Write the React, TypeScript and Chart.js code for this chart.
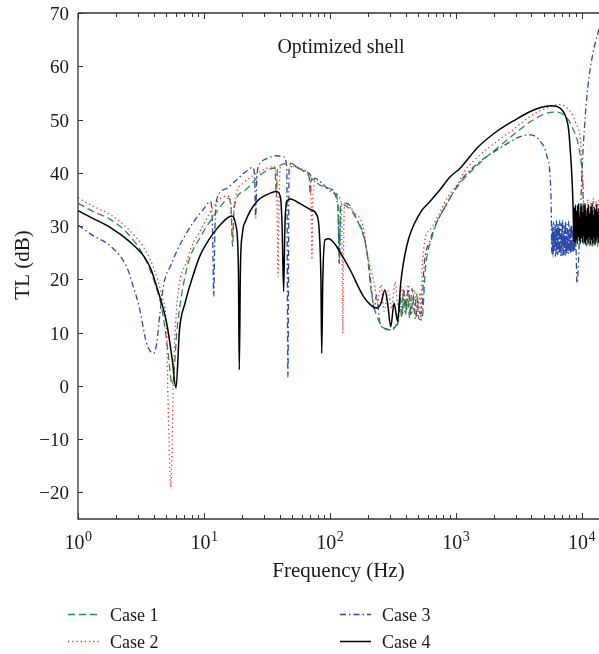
import React, { useEffect, useRef } from "react";
import { Chart, registerables } from "chart.js";

Chart.register(...registerables);

type P = [number, number];

// ---- Data: [frequency (Hz), TL (dB)] ----
const case1: P[] = [
  [1, 34.3], [1.3, 32.8], [1.82, 31.2], [2.46, 28.7], [3.34, 24.3], [3.99, 19.9], [4.65, 14.3],
  [5.15, 7.0], [5.61, 0.2], [6.15, 11.1], [7.38, 22.4], [9.42, 28.0], [11.5, 31.3], [13.6, 33.7],
  [15.7, 35.2], [16.4, 33.5], [16.9, 26.2], [17.4, 33.5], [20.6, 36.5], [27.9, 39.6], [36.7, 40.9],
  [37.6, 35.5], [38.5, 41.0], [48.6, 41.8], [60, 40.5], [68.5, 39.2], [70, 35.9], [71.5, 38.9],
  [85, 37.6], [106.6, 36.8], [116, 34.0], [119, 23.0], [122, 34.0], [136, 33.7], [164, 31.2],
  [196, 25.5], [216, 16.8], [250, 11.8], [302, 10.5], [344, 12.1], [360, 16.5], [372, 13.0],
  [385, 18.0], [400, 13.5], [415, 17.5], [430, 12.8], [450, 18.3], [470, 13.8], [490, 17.2],
  [510, 12.6], [540, 12.4], [574, 21.8], [649, 28.0], [853, 34.3], [1088, 38.1], [1500, 41.5],
  [2128, 44.6], [3000, 47.5], [3916, 49.6], [5300, 51.2], [6380, 51.4], [7660, 50.3], [8590, 48.1],
  [9460, 45.0], [10070, 40.0], [10300, 34.9],
  [10400, 26.3], [10550, 31.5], [10700, 26.5], [10850, 33.0], [11000, 26.2], [11150, 29.8],
  [11300, 26.6], [11450, 32.5], [11600, 26.3], [11750, 30.5], [11900, 26.4], [12050, 33.2],
  [12200, 26.2], [12350, 31.0], [12500, 26.5], [12650, 29.5], [12800, 26.3], [12950, 32.8],
  [13100, 26.6], [13250, 30.2], [13400, 26.2], [13550, 31.8], [13750, 26.5],
];

const case2: P[] = [
  [1, 35.3], [1.3, 33.8], [1.82, 32.1], [2.46, 29.6], [3.34, 25.9], [3.99, 22.1], [4.65, 16.8],
  [5.09, 8.6], [5.16, 0], [5.28, -10], [5.45, -19.0], [5.61, -10], [5.71, 0], [5.96, 11.8],
  [7.38, 23.7], [9.42, 29.3], [13.6, 35.2], [15.7, 35.6], [16.4, 34.0], [16.9, 28.0], [17.4, 34.0],
  [20.6, 38.1], [27.9, 40.2], [36, 41.2], [38, 36.0], [38.8, 20.5], [39.6, 36.0], [41, 41.5],
  [46, 41.7], [55, 40.9], [69, 39.2], [71, 35.0], [72.2, 23.7], [73.4, 35.0], [78, 38.7],
  [106.6, 36.2], [123, 34.5], [125.5, 25.0], [127, 9.9], [128.5, 25.0], [131, 34.3], [154, 32.7],
  [185, 29.6], [196, 25.5], [228, 18.6], [240, 15.5], [255, 19.0], [270, 14.0], [290, 17.8],
  [310, 14.5], [330, 19.5], [350, 15.0], [370, 18.6], [395, 14.0], [420, 19.0], [445, 13.5],
  [470, 18.0], [495, 13.0], [520, 17.5], [532, 12.4], [537, 21.2], [625, 29.3], [853, 35.2],
  [1088, 38.7], [1156, 40.0], [1500, 43.0], [2128, 45.9], [3000, 48.5], [3916, 50.6], [5300, 52.2],
  [6770, 52.8], [8130, 51.5], [9000, 49.3], [9770, 46.2], [10070, 41.2], [10300, 36.8],
  [10450, 28.0], [10600, 34.5], [10750, 27.2], [10900, 33.0], [11050, 28.5], [11200, 35.0],
  [11350, 27.0], [11500, 31.5], [11650, 28.2], [11800, 34.2], [11950, 27.5], [12100, 32.6],
  [12250, 28.8], [12400, 35.2], [12550, 27.3], [12700, 33.4], [12850, 28.0], [13000, 34.6],
  [13150, 27.6], [13300, 32.0], [13450, 28.4], [13600, 34.8], [13750, 29.0],
];

const case3: P[] = [
  [1, 30.2], [1.3, 28.3], [1.82, 26.2], [2.46, 22.1], [2.75, 18.6], [3.05, 15.0], [3.51, 8.0],
  [3.99, 6.1], [4.22, 8.0], [4.48, 13.7], [4.82, 19.3], [5.5, 22.8], [6.15, 25.5], [7.2, 28.5],
  [8.34, 30.9], [9.8, 33.0], [11.3, 34.6], [11.7, 30.0], [11.97, 16.8], [12.25, 30.0], [12.8, 35.4],
  [15, 37.0], [18, 38.6], [21, 40.0], [24.5, 41.0], [25.3, 39.0], [25.8, 31.5], [26.3, 39.0],
  [28, 41.8], [32, 42.7], [38, 43.2], [43, 43.0], [45.5, 41.0], [46.5, 1.7], [47.5, 41.0],
  [52, 41.2], [62, 40.3], [70, 39.6], [73, 38.3], [76, 39.0], [85, 38.2], [100, 36.8],
  [116, 34.0], [119, 23.0], [122, 34.0], [136, 34.3], [164, 31.2], [190, 27.4], [208, 21.2],
  [216, 17.4], [225, 14.5], [235, 17.0], [250, 11.8], [275, 10.8], [302, 10.5], [325, 11.0],
  [350, 12.1], [365, 16.5], [375, 13.0], [390, 17.8], [405, 14.0], [420, 18.2], [440, 13.2],
  [460, 17.0], [480, 12.5], [500, 16.0], [520, 13.5], [540, 14.0], [556, 21.2], [629, 27.4],
  [700, 30.5], [802, 33.1], [950, 36.2], [1088, 38.4], [1500, 41.8], [2128, 44.3], [2700, 45.8],
  [3258, 46.8], [3916, 47.1], [4700, 45.9], [5310, 43.1], [5640, 38.7], [5750, 32.4],
  [5790, 25.0], [5830, 30.2], [5870, 24.6], [5910, 29.5], [5950, 24.2], [5990, 30.8], [6040, 25.4],
  [6080, 28.9], [6120, 25.8], [6160, 30.4], [6200, 24.3], [6250, 28.6], [6290, 24.5], [6330, 31.0],
  [6380, 26.0], [6420, 29.2], [6470, 24.6], [6510, 30.6], [6560, 25.1], [6600, 29.8], [6650, 24.8],
  [6700, 31.1], [6740, 25.6], [6790, 28.3], [6830, 24.4], [6880, 30.5], [6920, 25.9], [6970, 29.1],
  [7010, 24.4], [7060, 31.2], [7110, 25.3], [7160, 28.7], [7210, 24.6], [7260, 30.1], [7310, 25.8],
  [7360, 29.4], [7410, 24.5], [7460, 30.9], [7510, 25.4], [7570, 28.2], [7620, 24.7], [7680, 30.3],
  [7730, 25.5], [7790, 29.0], [7840, 24.8], [7900, 30.9], [7950, 25.7], [8010, 28.5], [8060, 25.1],
  [8120, 30.0], [8170, 24.9], [8230, 29.3], [8280, 25.6], [8340, 30.2], [8390, 25.0], [8450, 28.7],
  [8500, 25.9], [8560, 29.6], [8610, 25.3], [8670, 30.4], [8720, 25.8], [8780, 28.6], [8830, 25.2],
  [8890, 29.9], [8940, 26.4], [9000, 28.8], [9050, 25.6],
  [9190, 19.3], [9700, 30.0], [10070, 40.0], [10500, 48.0], [11200, 56.0], [12200, 62.0], [13750, 67.0],
];

const case4: P[] = [
  [1, 32.9], [1.3, 31.5], [1.81, 29.7], [2.5, 27.3], [3.34, 24.3], [3.8, 21.9], [4.22, 18.6],
  [5.06, 11.8], [5.6, 5.0], [6.0, -0.4], [6.4, 10.5], [7.08, 15.5], [8.0, 19.9], [9.3, 24.4],
  [11, 27.5], [13, 29.8], [15.3, 31.5], [16.7, 31.9], [18.0, 30.0], [18.8, 22.0], [19.1, 3.0],
  [19.5, 22.0], [20.2, 28.5], [21.5, 31.0], [26.3, 34.6], [31, 35.8], [37.6, 36.5], [40.5, 35.5],
  [41.8, 30.0], [43, 17.7], [44, 30.0], [45.5, 34.6], [48.6, 35.1], [58, 34.2], [70, 33.1],
  [78.7, 32.1], [82.5, 29.0], [85, 20.0], [86.3, 6.1], [88, 20.0], [91.6, 27.4], [98, 27.6],
  [110, 26.6], [125, 24.5], [145, 21.8], [185, 16.8], [215, 15.0], [236, 14.6], [255, 15.5],
  [274, 18.0], [288, 15.5], [305, 11.1], [324, 15.5], [346, 12.1], [366, 19.3], [408, 26.2],
  [520, 32.4], [625, 34.6], [750, 36.8], [900, 39.2], [1088, 40.9], [1500, 44.8], [2128, 47.8],
  [3000, 50.0], [3916, 51.5], [4800, 52.3], [5640, 52.6], [6300, 52.5], [6985, 51.8], [7500, 50.5],
  [7890, 48.1], [8200, 43.0], [8400, 38.7], [8550, 34.0],
  [8700, 27.0], [8790, 33.5], [8880, 26.8], [8960, 34.0], [9050, 27.5], [9140, 32.8], [9230, 26.6],
  [9310, 33.9], [9400, 28.0], [9490, 34.2], [9580, 27.2], [9670, 31.5], [9760, 26.7], [9850, 33.6],
  [9950, 27.8], [10050, 34.0], [10150, 26.9], [10250, 32.5], [10350, 28.2], [10450, 33.8],
  [10560, 27.0], [10670, 34.1], [10780, 26.5], [10890, 31.8], [11000, 27.6], [11120, 33.4],
  [11240, 26.9], [11360, 34.0], [11480, 28.1], [11600, 32.2], [11720, 26.7], [11850, 33.7],
  [11980, 27.4], [12110, 34.3], [12240, 26.8], [12370, 31.9], [12500, 27.9], [12640, 33.5],
  [12780, 26.6], [12920, 33.0], [13060, 27.3], [13200, 34.1], [13340, 28.0], [13480, 32.6],
  [13620, 26.9], [13750, 33.2],
];

const seriesLabels = ["Case 1", "Case 2", "Case 3", "Case 4"];
const xMin = 1;
const xMax = 13750;
const yMin = -25;
const yMax = 70;
const xMajorValues = [1, 10, 100, 1000, 10000];
const xMajorExponents = ["0", "1", "2", "3", "4"];
const yTickValues = [-20, -10, 0, 10, 20, 30, 40, 50, 60, 70];
const yTickLabels = ["\u221220", "\u221210", "0", "10", "20", "30", "40", "50", "60", "70"];
const annotationText = "Optimized shell";
const xTitle = "Frequency (Hz)";
const yTitle = "TL (dB)";

const FONT = '"Liberation Serif", "Times New Roman", Times, serif';
const TEXT = "#1a1a1a";
const AXIS = "#333333";

const decorPlugin = {
  id: "decor",
  afterDatasetsDraw(chart: any) {
    const ctx: CanvasRenderingContext2D = chart.ctx;
    const { left, right, top, bottom } = chart.chartArea;
    const xs = chart.scales.x;
    const ys = chart.scales.y;
    ctx.save();

    ctx.strokeStyle = AXIS;
    ctx.lineWidth = 1.3;
    ctx.setLineDash([]);
    ctx.beginPath();
    ctx.moveTo(left, top);
    ctx.lineTo(right + 2, top);
    ctx.moveTo(left, top);
    ctx.lineTo(left, bottom);
    ctx.lineTo(right + 2, bottom);
    ctx.stroke();

    ctx.lineWidth = 1;
    ctx.beginPath();
    for (let d = 0; d < xMajorValues.length; d++) {
      for (let m = 1; m <= 9; m++) {
        const v = m * xMajorValues[d];
        if (v < xMin || v > xMax) continue;
        const px = Math.round(xs.getPixelForValue(v)) + 0.5;
        const len = m === 1 ? 6 : 4;
        ctx.moveTo(px, bottom);
        ctx.lineTo(px, bottom - len);
        ctx.moveTo(px, top);
        ctx.lineTo(px, top + len);
      }
    }
    for (const v of yTickValues) {
      const py = Math.round(ys.getPixelForValue(v)) + 0.5;
      ctx.moveTo(left, py);
      ctx.lineTo(left + 5, py);
    }
    ctx.stroke();

    ctx.fillStyle = TEXT;
    ctx.font = `19px ${FONT}`;
    ctx.textAlign = "right";
    ctx.textBaseline = "alphabetic";
    yTickValues.forEach((v, i) => {
      const py = ys.getPixelForValue(v);
      ctx.fillText(yTickLabels[i], left - 9, py + 7);
    });

    ctx.textAlign = "left";
    xMajorValues.forEach((v, i) => {
      const px = xs.getPixelForValue(v);
      ctx.font = `20px ${FONT}`;
      const w1 = ctx.measureText("10").width;
      ctx.font = `14px ${FONT}`;
      const w2 = ctx.measureText(xMajorExponents[i]).width;
      const start = px - (w1 + w2) / 2;
      ctx.font = `20px ${FONT}`;
      ctx.fillText("10", start, bottom + 30);
      ctx.font = `14px ${FONT}`;
      ctx.fillText(xMajorExponents[i], start + w1 + 0.5, bottom + 21.5);
    });

    ctx.font = `21px ${FONT}`;
    ctx.textAlign = "center";
    ctx.fillText(xTitle, (left + right) / 2, bottom + 58);
    ctx.save();
    ctx.translate(28.5, (top + bottom) / 2 - 1);
    ctx.rotate(-Math.PI / 2);
    ctx.fillText(yTitle, 0, 0);
    ctx.restore();

    ctx.font = `20px ${FONT}`;
    ctx.textAlign = "center";
    ctx.fillText(annotationText, 341, top + 40);

    const ds = chart.data.datasets;
    const cols = [68, 340];
    const rows = [614.5, 641.5];
    const slots = [
      [0, 0],
      [0, 1],
      [1, 0],
      [1, 1],
    ];
    ds.forEach((d: any, i: number) => {
      const [c, r] = slots[i];
      const x0 = cols[c];
      const y0 = rows[r];
      ctx.save();
      ctx.strokeStyle = d.borderColor;
      ctx.lineWidth = d.borderWidth;
      ctx.setLineDash(d.borderDash || []);
      ctx.beginPath();
      ctx.moveTo(x0, y0);
      ctx.lineTo(x0 + 31, y0);
      ctx.stroke();
      ctx.restore();
      ctx.fillStyle = TEXT;
      ctx.font = `18px ${FONT}`;
      ctx.textAlign = "left";
      ctx.fillText(d.label, x0 + 42, y0 + 6);
    });

    ctx.restore();
  },
};

const toXY = (arr: P[]) => arr.map(([x, y]) => ({ x, y }));

export default function App() {
  const canvasRef = useRef<HTMLCanvasElement | null>(null);

  useEffect(() => {
    if (!canvasRef.current) return;
    const common = {
      pointRadius: 0,
      fill: false,
      cubicInterpolationMode: "monotone",
    };
    const chart = new Chart(canvasRef.current, {
      type: "line",
      data: {
        datasets: [
          {
            ...common,
            label: seriesLabels[0],
            data: toXY(case1),
            borderColor: "#2a8a45",
            borderDash: [7, 4],
            borderWidth: 1.3,
            order: 2,
          },
          {
            ...common,
            label: seriesLabels[1],
            data: toXY(case2),
            borderColor: "#ff2a2a",
            borderDash: [1.3, 2.9],
            borderWidth: 1.3,
            order: 1,
          },
          {
            ...common,
            label: seriesLabels[2],
            data: toXY(case3),
            borderColor: "#2a48a6",
            borderDash: [6, 3, 1.5, 3],
            borderWidth: 1.3,
            order: 3,
          },
          {
            ...common,
            label: seriesLabels[3],
            data: toXY(case4),
            borderColor: "#000000",
            borderDash: [],
            borderWidth: 1.5,
            order: 0,
          },
        ] as any,
      },
      options: {
        animation: false,
        responsive: false,
        devicePixelRatio: 1,
        layout: { padding: { left: 78, right: 0, top: 13, bottom: 135 } },
        scales: {
          x: { type: "logarithmic", min: xMin, max: xMax, display: false },
          y: { type: "linear", min: yMin, max: yMax, display: false },
        },
        plugins: {
          legend: { display: false },
          tooltip: { enabled: false },
        },
      },
      plugins: [decorPlugin],
    } as any);
    return () => chart.destroy();
  }, []);

  return (
    <div style={{ position: "absolute", left: 0, top: 0, width: 599, height: 654, background: "#fff" }}>
      <canvas ref={canvasRef} width={599} height={654} style={{ display: "block" }} />
    </div>
  );
}
